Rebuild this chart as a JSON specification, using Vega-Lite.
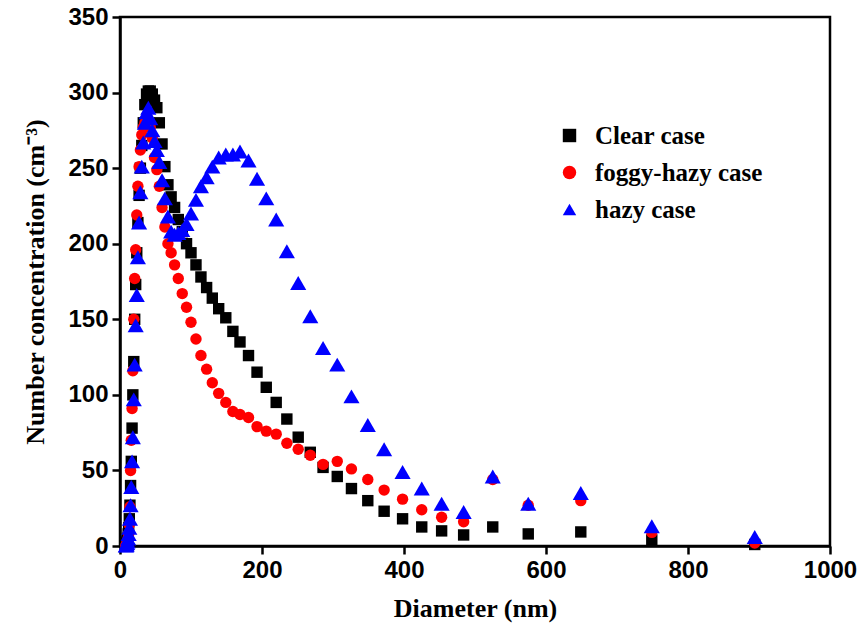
{
  "$schema": "https://vega.github.io/schema/vega-lite/v6.json",
  "width": 710,
  "height": 529,
  "autosize": {"type": "none"},
  "padding": {"left": 120, "top": 17, "right": 29, "bottom": 93},
  "background": "white",
  "data": {"values": [
    {"d":8.2,"n":0.5,"c":"Clear case"},{"d":8.8,"n":1,"c":"Clear case"},{"d":9.4,"n":2,"c":"Clear case"},{"d":10,"n":3,"c":"Clear case"},{"d":10.7,"n":5,"c":"Clear case"},{"d":11.5,"n":8,"c":"Clear case"},{"d":12.2,"n":12,"c":"Clear case"},{"d":13.1,"n":18,"c":"Clear case"},{"d":14.0,"n":27,"c":"Clear case"},{"d":14.9,"n":40,"c":"Clear case"},{"d":15.9,"n":56,"c":"Clear case"},{"d":17.0,"n":78,"c":"Clear case"},{"d":18.1,"n":100,"c":"Clear case"},{"d":19.4,"n":122,"c":"Clear case"},{"d":20.7,"n":150,"c":"Clear case"},{"d":22.1,"n":173,"c":"Clear case"},{"d":23.6,"n":194,"c":"Clear case"},{"d":25.2,"n":214,"c":"Clear case"},{"d":26.9,"n":232,"c":"Clear case"},{"d":28.7,"n":250,"c":"Clear case"},{"d":30.7,"n":265,"c":"Clear case"},{"d":32.8,"n":280,"c":"Clear case"},{"d":35.0,"n":292,"c":"Clear case"},{"d":37.4,"n":299,"c":"Clear case"},{"d":39.9,"n":301,"c":"Clear case"},{"d":42.6,"n":301,"c":"Clear case"},{"d":45.5,"n":299,"c":"Clear case"},{"d":48.6,"n":295,"c":"Clear case"},{"d":51.9,"n":290,"c":"Clear case"},{"d":55.4,"n":280,"c":"Clear case"},{"d":59.2,"n":266,"c":"Clear case"},{"d":63.2,"n":251,"c":"Clear case"},{"d":67.5,"n":239,"c":"Clear case"},{"d":72.0,"n":231,"c":"Clear case"},{"d":76.9,"n":224,"c":"Clear case"},{"d":82.1,"n":216,"c":"Clear case"},{"d":87.7,"n":208,"c":"Clear case"},{"d":93.7,"n":200,"c":"Clear case"},{"d":100,"n":194,"c":"Clear case"},{"d":107,"n":186,"c":"Clear case"},{"d":114,"n":178,"c":"Clear case"},{"d":122,"n":171,"c":"Clear case"},{"d":130,"n":164,"c":"Clear case"},{"d":139,"n":157,"c":"Clear case"},{"d":149,"n":151,"c":"Clear case"},{"d":159,"n":142,"c":"Clear case"},{"d":169,"n":135,"c":"Clear case"},{"d":181,"n":126,"c":"Clear case"},{"d":193,"n":115,"c":"Clear case"},{"d":206,"n":105,"c":"Clear case"},{"d":220,"n":95,"c":"Clear case"},{"d":235,"n":84,"c":"Clear case"},{"d":251,"n":72,"c":"Clear case"},{"d":268,"n":62,"c":"Clear case"},{"d":286,"n":52,"c":"Clear case"},{"d":306,"n":46,"c":"Clear case"},{"d":326,"n":38,"c":"Clear case"},{"d":349,"n":30,"c":"Clear case"},{"d":372,"n":23,"c":"Clear case"},{"d":398,"n":18,"c":"Clear case"},{"d":425,"n":12.6,"c":"Clear case"},{"d":453,"n":10,"c":"Clear case"},{"d":484,"n":7.3,"c":"Clear case"},{"d":525,"n":12.6,"c":"Clear case"},{"d":575,"n":8,"c":"Clear case"},{"d":649,"n":9.3,"c":"Clear case"},{"d":749,"n":4,"c":"Clear case"},{"d":894,"n":1,"c":"Clear case"},
    {"d":8.2,"n":0.3,"c":"foggy-hazy case"},{"d":8.8,"n":0.5,"c":"foggy-hazy case"},{"d":9.4,"n":1,"c":"foggy-hazy case"},{"d":10,"n":2,"c":"foggy-hazy case"},{"d":10.7,"n":3,"c":"foggy-hazy case"},{"d":11.5,"n":5,"c":"foggy-hazy case"},{"d":12.2,"n":8,"c":"foggy-hazy case"},{"d":13.1,"n":14,"c":"foggy-hazy case"},{"d":14.0,"n":26,"c":"foggy-hazy case"},{"d":14.9,"n":50,"c":"foggy-hazy case"},{"d":15.9,"n":70,"c":"foggy-hazy case"},{"d":17.0,"n":91,"c":"foggy-hazy case"},{"d":18.1,"n":116,"c":"foggy-hazy case"},{"d":19.4,"n":150,"c":"foggy-hazy case"},{"d":20.7,"n":177,"c":"foggy-hazy case"},{"d":22.1,"n":196,"c":"foggy-hazy case"},{"d":23.6,"n":219,"c":"foggy-hazy case"},{"d":25.2,"n":238,"c":"foggy-hazy case"},{"d":26.9,"n":251,"c":"foggy-hazy case"},{"d":28.7,"n":262,"c":"foggy-hazy case"},{"d":30.7,"n":272,"c":"foggy-hazy case"},{"d":32.8,"n":277,"c":"foggy-hazy case"},{"d":35.0,"n":280,"c":"foggy-hazy case"},{"d":37.4,"n":282,"c":"foggy-hazy case"},{"d":39.9,"n":280,"c":"foggy-hazy case"},{"d":42.6,"n":277,"c":"foggy-hazy case"},{"d":45.5,"n":270,"c":"foggy-hazy case"},{"d":48.6,"n":257,"c":"foggy-hazy case"},{"d":51.9,"n":249,"c":"foggy-hazy case"},{"d":55.4,"n":238,"c":"foggy-hazy case"},{"d":59.2,"n":224,"c":"foggy-hazy case"},{"d":63.2,"n":211,"c":"foggy-hazy case"},{"d":67.5,"n":200,"c":"foggy-hazy case"},{"d":72.0,"n":194,"c":"foggy-hazy case"},{"d":76.9,"n":186,"c":"foggy-hazy case"},{"d":82.1,"n":177,"c":"foggy-hazy case"},{"d":87.7,"n":167,"c":"foggy-hazy case"},{"d":93.7,"n":158,"c":"foggy-hazy case"},{"d":100,"n":148,"c":"foggy-hazy case"},{"d":107,"n":137,"c":"foggy-hazy case"},{"d":114,"n":126,"c":"foggy-hazy case"},{"d":122,"n":117,"c":"foggy-hazy case"},{"d":130,"n":108,"c":"foggy-hazy case"},{"d":139,"n":101,"c":"foggy-hazy case"},{"d":149,"n":95,"c":"foggy-hazy case"},{"d":159,"n":89,"c":"foggy-hazy case"},{"d":169,"n":87,"c":"foggy-hazy case"},{"d":181,"n":85,"c":"foggy-hazy case"},{"d":193,"n":79,"c":"foggy-hazy case"},{"d":206,"n":76,"c":"foggy-hazy case"},{"d":220,"n":74,"c":"foggy-hazy case"},{"d":235,"n":68,"c":"foggy-hazy case"},{"d":251,"n":64,"c":"foggy-hazy case"},{"d":268,"n":60,"c":"foggy-hazy case"},{"d":286,"n":54,"c":"foggy-hazy case"},{"d":306,"n":56,"c":"foggy-hazy case"},{"d":326,"n":51,"c":"foggy-hazy case"},{"d":349,"n":44,"c":"foggy-hazy case"},{"d":372,"n":37,"c":"foggy-hazy case"},{"d":398,"n":31,"c":"foggy-hazy case"},{"d":425,"n":24,"c":"foggy-hazy case"},{"d":453,"n":19,"c":"foggy-hazy case"},{"d":484,"n":16,"c":"foggy-hazy case"},{"d":525,"n":44,"c":"foggy-hazy case"},{"d":575,"n":27,"c":"foggy-hazy case"},{"d":649,"n":30,"c":"foggy-hazy case"},{"d":749,"n":9,"c":"foggy-hazy case"},{"d":894,"n":2,"c":"foggy-hazy case"},
    {"d":8.2,"n":0.3,"c":"hazy case"},{"d":8.8,"n":0.5,"c":"hazy case"},{"d":9.4,"n":1,"c":"hazy case"},{"d":10,"n":2,"c":"hazy case"},{"d":10.7,"n":3,"c":"hazy case"},{"d":11.5,"n":5,"c":"hazy case"},{"d":12.2,"n":8,"c":"hazy case"},{"d":13.1,"n":12,"c":"hazy case"},{"d":14.0,"n":18,"c":"hazy case"},{"d":14.9,"n":27,"c":"hazy case"},{"d":15.9,"n":39,"c":"hazy case"},{"d":17.0,"n":56,"c":"hazy case"},{"d":18.1,"n":72,"c":"hazy case"},{"d":19.4,"n":97,"c":"hazy case"},{"d":20.7,"n":120,"c":"hazy case"},{"d":22.1,"n":146,"c":"hazy case"},{"d":23.6,"n":166,"c":"hazy case"},{"d":25.2,"n":191,"c":"hazy case"},{"d":26.9,"n":214,"c":"hazy case"},{"d":28.7,"n":234,"c":"hazy case"},{"d":30.7,"n":251,"c":"hazy case"},{"d":32.8,"n":267,"c":"hazy case"},{"d":35.0,"n":280,"c":"hazy case"},{"d":37.4,"n":287,"c":"hazy case"},{"d":39.9,"n":290,"c":"hazy case"},{"d":42.6,"n":283,"c":"hazy case"},{"d":45.5,"n":275,"c":"hazy case"},{"d":48.6,"n":268,"c":"hazy case"},{"d":51.9,"n":262,"c":"hazy case"},{"d":55.4,"n":254,"c":"hazy case"},{"d":59.2,"n":242,"c":"hazy case"},{"d":63.2,"n":230,"c":"hazy case"},{"d":67.5,"n":218,"c":"hazy case"},{"d":72.0,"n":208,"c":"hazy case"},{"d":76.9,"n":206,"c":"hazy case"},{"d":82.1,"n":207,"c":"hazy case"},{"d":87.7,"n":209,"c":"hazy case"},{"d":93.7,"n":213,"c":"hazy case"},{"d":100,"n":220,"c":"hazy case"},{"d":107,"n":229,"c":"hazy case"},{"d":114,"n":238,"c":"hazy case"},{"d":122,"n":244,"c":"hazy case"},{"d":130,"n":251,"c":"hazy case"},{"d":139,"n":257,"c":"hazy case"},{"d":149,"n":259,"c":"hazy case"},{"d":159,"n":259,"c":"hazy case"},{"d":169,"n":261,"c":"hazy case"},{"d":181,"n":255,"c":"hazy case"},{"d":193,"n":243,"c":"hazy case"},{"d":206,"n":230,"c":"hazy case"},{"d":220,"n":216,"c":"hazy case"},{"d":235,"n":195,"c":"hazy case"},{"d":251,"n":174,"c":"hazy case"},{"d":268,"n":152,"c":"hazy case"},{"d":286,"n":131,"c":"hazy case"},{"d":306,"n":120,"c":"hazy case"},{"d":326,"n":99,"c":"hazy case"},{"d":349,"n":80,"c":"hazy case"},{"d":372,"n":64,"c":"hazy case"},{"d":398,"n":49,"c":"hazy case"},{"d":425,"n":38,"c":"hazy case"},{"d":453,"n":28,"c":"hazy case"},{"d":484,"n":22.5,"c":"hazy case"},{"d":525,"n":46,"c":"hazy case"},{"d":575,"n":28,"c":"hazy case"},{"d":649,"n":35,"c":"hazy case"},{"d":749,"n":13,"c":"hazy case"},{"d":894,"n":6,"c":"hazy case"}
  ]},
  "encoding": {
    "x": {
      "field": "d", "type": "quantitative",
      "scale": {"domain": [0, 1000], "nice": false},
      "axis": {
        "values": [0, 200, 400, 600, 800, 1000], "format": "d",
        "title": "Diameter (nm)",
        "titleFont": "Liberation Serif", "titleFontSize": 26, "titleFontWeight": "bold", "titleColor": "black", "titlePadding": 13,
        "labelFont": "Liberation Sans", "labelFontSize": 24, "labelFontWeight": "bold", "labelColor": "black", "labelPadding": 4,
        "labelFlush": false, "labelOverlap": false,
        "grid": false, "domainColor": "black", "domainWidth": 2.5,
        "tickColor": "black", "tickWidth": 2.5, "tickSize": 8
      }
    },
    "y": {
      "field": "n", "type": "quantitative",
      "scale": {"domain": [0, 350], "nice": false},
      "axis": {
        "values": [0, 50, 100, 150, 200, 250, 300, 350], "format": "d",
        "title": "Number concentration (cm⁻³)",
        "titleFont": "Liberation Serif", "titleFontSize": 26, "titleFontWeight": "bold", "titleColor": "black", "titlePadding": 19,
        "labelFont": "Liberation Sans", "labelFontSize": 24, "labelFontWeight": "bold", "labelColor": "black", "labelPadding": 4,
        "labelFlush": false, "labelOverlap": false,
        "grid": false, "domainColor": "black", "domainWidth": 2.5,
        "tickColor": "black", "tickWidth": 2.5, "tickSize": 8
      }
    },
    "color": {
      "field": "c", "type": "nominal",
      "scale": {"domain": ["Clear case", "foggy-hazy case", "hazy case"], "range": ["#000000", "#ff0000", "#0000ff"]},
      "legend": {
        "orient": "none", "legendX": 437, "legendY": 106, "title": null,
        "labelFont": "Liberation Serif", "labelFontSize": 25, "labelFontWeight": "bold", "labelColor": "black", "labelLimit": 400,
        "labelOffset": 13, "rowPadding": 11, "symbolSize": 180, "symbolOpacity": 1, "symbolStrokeWidth": 0
      }
    },
    "shape": {
      "field": "c", "type": "nominal",
      "scale": {"domain": ["Clear case", "foggy-hazy case", "hazy case"], "range": ["square", "circle", "triangle-up"]}
    }
  },
  "layer": [
    {
      "transform": [{"filter": "datum.c !== 'hazy case'"}],
      "mark": {"type": "point", "filled": true, "opacity": 1, "clip": false, "size": 130}
    },
    {
      "transform": [{"filter": "datum.c === 'hazy case'"}],
      "mark": {"type": "point", "filled": true, "opacity": 1, "clip": false, "size": 260}
    }
  ],
  "config": {
    "view": {"stroke": "black", "strokeWidth": 2.5}
  }
}
